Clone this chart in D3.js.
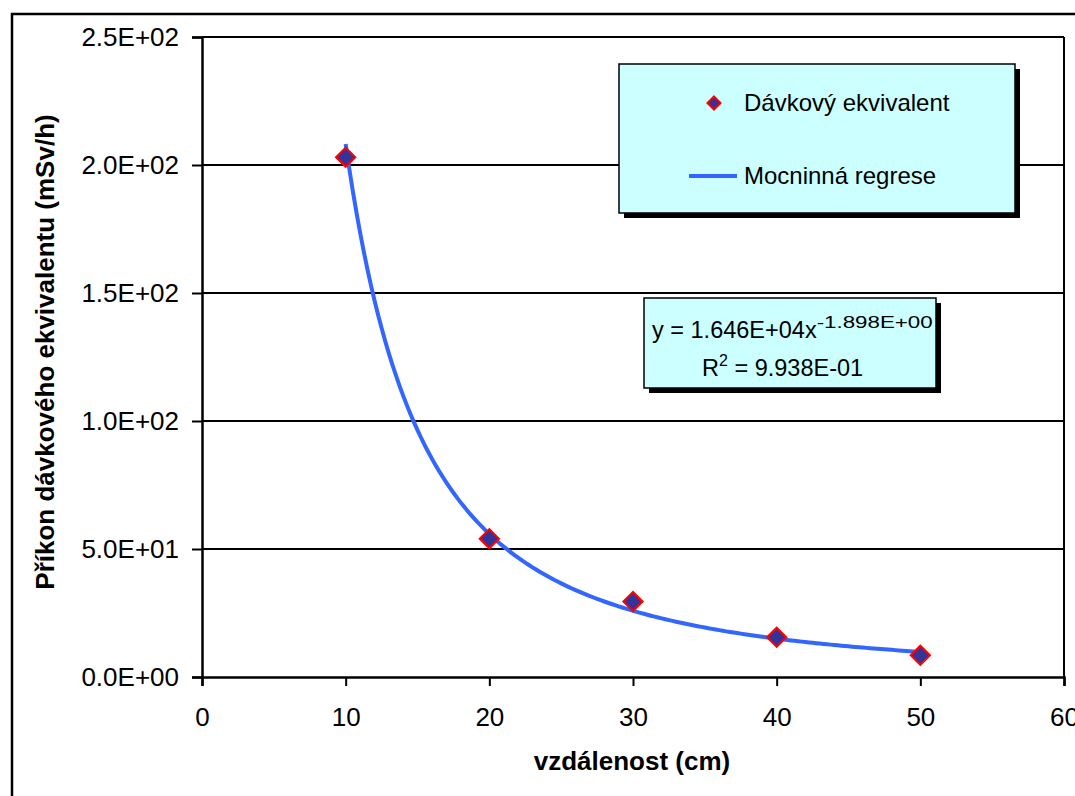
<!DOCTYPE html>
<html>
<head>
<meta charset="utf-8">
<script src="https://cdn.jsdelivr.net/npm/d3@7"></script>
<style>
  body { margin: 0; background: #fff; }
  svg { display: block; font-family: "Liberation Sans", Arial, sans-serif; }
</style>
</head>
<body>
<svg id="chart" width="1075" height="796"></svg>
<script>
// measured points
var distances = [10, 20, 30, 40, 50];
var doseRates = [203, 54, 29.5, 15.5, 8.5];

// power regression, coefficients as printed on the chart
var fitA = 1.646e4, fitB = -1.898, fitR2 = 0.9938;

var yTicks = [0, 50, 100, 150, 200, 250];
var xTicks = [0, 10, 20, 30, 40, 50, 60];

var svg = d3.select('#chart');
var plot = {left: 202, top: 37, right: 1064, bottom: 677};

var x = d3.scaleLinear().domain([0, 60]).range([plot.left, plot.right]);
var y = d3.scaleLinear().domain([0, 250]).range([plot.bottom, plot.top]);

// 2.5E+02 style
function sci(v, digits) {
  var s = v.toExponential(digits).split('e');
  var e = +s[1];
  return s[0] + 'E' + (e < 0 ? '-' : '+') + String(Math.abs(e)).padStart(2, '0');
}

// outer chart border
svg.append('rect')
  .attr('x', 12).attr('y', 14)
  .attr('width', 1100).attr('height', 800)
  .attr('fill', 'none').attr('stroke', '#000').attr('stroke-width', 2.5);

// gridlines
svg.append('g').selectAll('line')
  .data(yTicks.filter(d => d > 0))
  .enter().append('line')
  .attr('x1', plot.left).attr('x2', plot.right)
  .attr('y1', d => y(d)).attr('y2', d => y(d))
  .attr('stroke', '#000').attr('stroke-width', 1.8);

// right edge of plot area
svg.append('line')
  .attr('x1', plot.right).attr('x2', plot.right)
  .attr('y1', plot.top).attr('y2', plot.bottom)
  .attr('stroke', '#000').attr('stroke-width', 2);

var yAxis = svg.append('g')
  .attr('transform', `translate(${plot.left},0)`)
  .call(d3.axisLeft(y).tickValues(yTicks).tickFormat(d => sci(d, 1)).tickSize(10).tickPadding(13));
var xAxis = svg.append('g')
  .attr('transform', `translate(0,${plot.bottom})`)
  .call(d3.axisBottom(x).tickValues(xTicks).tickFormat(d3.format('d')).tickSize(9).tickPadding(22));

[yAxis, xAxis].forEach(function (g) {
  g.select('.domain').attr('stroke', '#000').attr('stroke-width', 2.5);
  g.selectAll('.tick line').attr('stroke', '#000').attr('stroke-width', 2);
  g.selectAll('.tick text').attr('fill', '#000')
    .style('font-size', '26px').style('font-family', '"Liberation Sans", Arial, sans-serif');
});

// regression curve
var curveX = d3.range(distances[0], distances[distances.length - 1] + 0.001, 0.25);
var line = d3.line().x(d => x(d)).y(d => y(fitA * Math.pow(d, fitB)));
svg.append('path')
  .datum(curveX)
  .attr('d', line)
  .attr('fill', 'none')
  .attr('stroke', '#3366FF')
  .attr('stroke-width', 4)
  .attr('stroke-linejoin', 'round');

// measured diamonds
var diamond = d3.symbol().type(d3.symbolDiamond2).size(230);
svg.append('g').selectAll('path')
  .data(distances)
  .enter().append('path')
  .attr('transform', (d, i) => `translate(${x(d)},${y(doseRates[i])})`)
  .attr('d', diamond)
  .attr('fill', '#333399')
  .attr('stroke', '#FF0000')
  .attr('stroke-width', 2.2);

// legend
var lg = svg.append('g');
lg.append('rect').attr('x', 624).attr('y', 69).attr('width', 396).attr('height', 149).attr('fill', '#000');
lg.append('rect').attr('x', 619).attr('y', 64).attr('width', 396).attr('height', 149)
  .attr('fill', '#CCFFFF').attr('stroke', '#000').attr('stroke-width', 1.5);
lg.append('path')
  .attr('transform', 'translate(714,103)')
  .attr('d', d3.symbol().type(d3.symbolDiamond2).size(110))
  .attr('fill', '#333399').attr('stroke', '#FF0000').attr('stroke-width', 2);
lg.append('line').attr('x1', 689).attr('x2', 737).attr('y1', 176).attr('y2', 176)
  .attr('stroke', '#3366FF').attr('stroke-width', 4);
lg.append('text').attr('x', 744).attr('y', 111).style('font-size', '24px').text('Dávkový ekvivalent');
lg.append('text').attr('x', 744).attr('y', 184).style('font-size', '24px').text('Mocninná regrese');

// equation box
var eq = svg.append('g');
eq.append('rect').attr('x', 649).attr('y', 303).attr('width', 292).attr('height', 90).attr('fill', '#000');
eq.append('rect').attr('x', 644).attr('y', 298).attr('width', 292).attr('height', 90)
  .attr('fill', '#CCFFFF').attr('stroke', '#000').attr('stroke-width', 1.5);
var t1 = eq.append('text').attr('x', 652).attr('y', 338).style('font-size', '23.5px');
t1.append('tspan').text('y = ' + sci(fitA, 3) + 'x');
t1.append('tspan').attr('dy', -10).style('font-size', '16px')
  .attr('textLength', 116).attr('lengthAdjust', 'spacingAndGlyphs')
  .text(sci(fitB, 3));
var t2 = eq.append('text').attr('x', 702).attr('y', 376).style('font-size', '23.5px');
t2.append('tspan').text('R');
t2.append('tspan').attr('dy', -10).style('font-size', '16px').text('2');
t2.append('tspan').attr('dy', 10).text(' = ' + sci(fitR2, 3));

// axis titles
svg.append('text')
  .attr('transform', 'translate(54,352) rotate(-90)')
  .attr('text-anchor', 'middle')
  .style('font-size', '26px').style('font-weight', 'bold')
  .text('Příkon dávkového ekvivalentu (mSv/h)');
svg.append('text')
  .attr('x', 632).attr('y', 770)
  .attr('text-anchor', 'middle')
  .style('font-size', '26px').style('font-weight', 'bold')
  .text('vzdálenost (cm)');
</script>
</body>
</html>
